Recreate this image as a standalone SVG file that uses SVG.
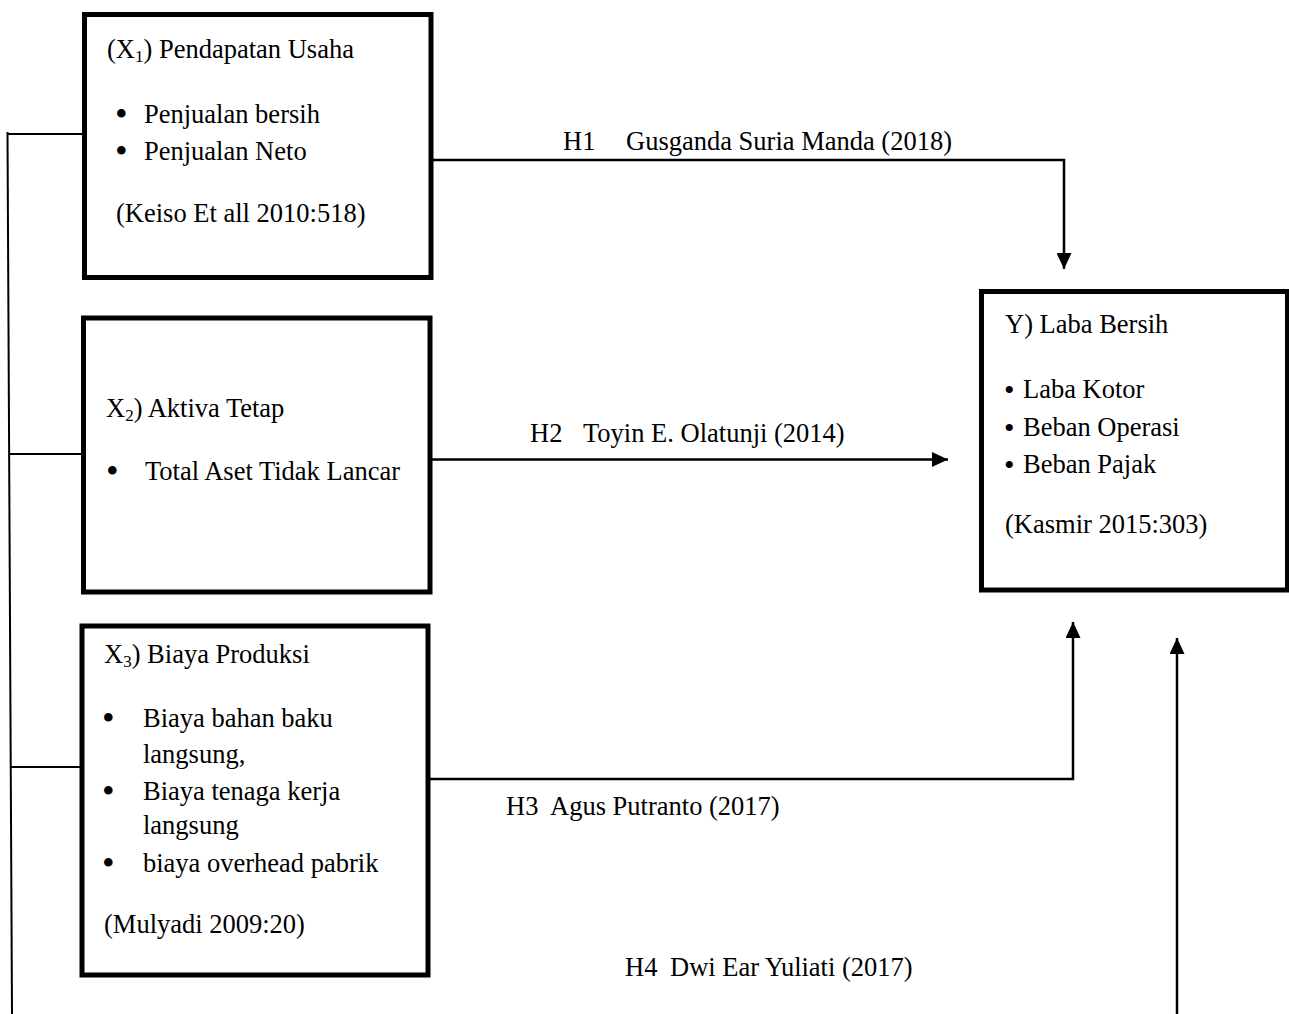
<svg xmlns="http://www.w3.org/2000/svg" width="1289" height="1014" viewBox="0 0 1289 1014">
<defs>
<marker id="arr" markerUnits="userSpaceOnUse" markerWidth="16" markerHeight="15" refX="16" refY="7.5" viewBox="0 0 16 15" orient="auto">
<path d="M0,0 L16,7.5 L0,15 Z" fill="#000"/>
</marker>
<style>
.box{fill:#fff;stroke:#000;stroke-width:5}
.t{font-family:"Liberation Serif","Times New Roman",serif;font-size:26.5px;fill:#000}
.sub{font-size:17px}
.b{font-family:"Liberation Serif","Times New Roman",serif;font-size:36px;fill:#000}
.bs{font-family:"Liberation Serif","Times New Roman",serif;font-size:30px;fill:#000}
.ln{fill:none;stroke:#000;stroke-width:2.5}
.lt{fill:none;stroke:#000;stroke-width:2}
</style>
</defs>
<rect width="1289" height="1014" fill="#fff"/>
<g id="connectors">
<line class="lt" x1="7.5" y1="132" x2="12" y2="1014"/>
<line class="lt" x1="7.5" y1="134" x2="84" y2="134"/>
<line class="lt" x1="9" y1="454" x2="83" y2="454"/>
<line class="lt" x1="11" y1="767" x2="81" y2="767"/>
<polyline class="ln" points="428,160 1064,160 1064,269" marker-end="url(#arr)"/>
<line class="ln" x1="430" y1="459.5" x2="948" y2="459.5" marker-end="url(#arr)"/>
<polyline class="ln" points="428,779 1073,779 1073,622" marker-end="url(#arr)"/>
<line class="ln" x1="1177" y1="1014" x2="1177" y2="638" marker-end="url(#arr)"/>
<text class="t" y="150"><tspan x="563">H1</tspan><tspan x="626">Gusganda Suria Manda (2018)</tspan></text>
<text class="t" y="442"><tspan x="530">H2</tspan><tspan x="583">Toyin E. Olatunji (2014)</tspan></text>
<text class="t" y="815"><tspan x="506">H3</tspan><tspan x="550">Agus Putranto (2017)</tspan></text>
<text class="t" y="976"><tspan x="625">H4</tspan><tspan x="670">Dwi Ear Yuliati (2017)</tspan></text>
</g>
<g id="x1">
<rect class="box" x="84.5" y="14.5" width="346.5" height="263"/>
<text class="t" x="107" y="58">(X<tspan class="sub" dy="4">1</tspan><tspan dy="-4">) Pendapatan Usaha</tspan></text>
<text class="b" x="115" y="126">•</text>
<text class="t" x="144" y="123">Penjualan bersih</text>
<text class="b" x="115" y="163">•</text>
<text class="t" x="144" y="160">Penjualan Neto</text>
<text class="t" x="116" y="222">(Keiso Et all 2010:518)</text>
</g>
<g id="x2">
<rect class="box" x="83.5" y="318" width="346.5" height="274"/>
<text class="t" x="106" y="417">X<tspan class="sub" dy="4">2</tspan><tspan dy="-4">) Aktiva Tetap</tspan></text>
<text class="b" x="106" y="483">•</text>
<text class="t" x="145" y="480">Total Aset Tidak Lancar</text>
</g>
<g id="x3">
<rect class="box" x="82" y="626" width="346" height="349"/>
<text class="t" x="104" y="663">X<tspan class="sub" dy="4">3</tspan><tspan dy="-4">) Biaya Produksi</tspan></text>
<text class="b" x="102" y="730">•</text>
<text class="t" x="143" y="727">Biaya bahan baku</text>
<text class="t" x="143" y="763">langsung,</text>
<text class="b" x="102" y="803">•</text>
<text class="t" x="143" y="800">Biaya tenaga kerja</text>
<text class="t" x="143" y="834">langsung</text>
<text class="b" x="102" y="875">•</text>
<text class="t" x="143" y="872">biaya overhead pabrik</text>
<text class="t" x="104" y="933">(Mulyadi 2009:20)</text>
</g>
<g id="y">
<rect class="box" x="981.5" y="291.5" width="306" height="298.5"/>
<text class="t" x="1005" y="333">Y) Laba Bersih</text>
<text class="bs" x="1004" y="400">•</text>
<text class="t" x="1023" y="398">Laba Kotor</text>
<text class="bs" x="1004" y="438">•</text>
<text class="t" x="1023" y="436">Beban Operasi</text>
<text class="bs" x="1004" y="475">•</text>
<text class="t" x="1023" y="473">Beban Pajak</text>
<text class="t" x="1005" y="533">(Kasmir 2015:303)</text>
</g>
</svg>
